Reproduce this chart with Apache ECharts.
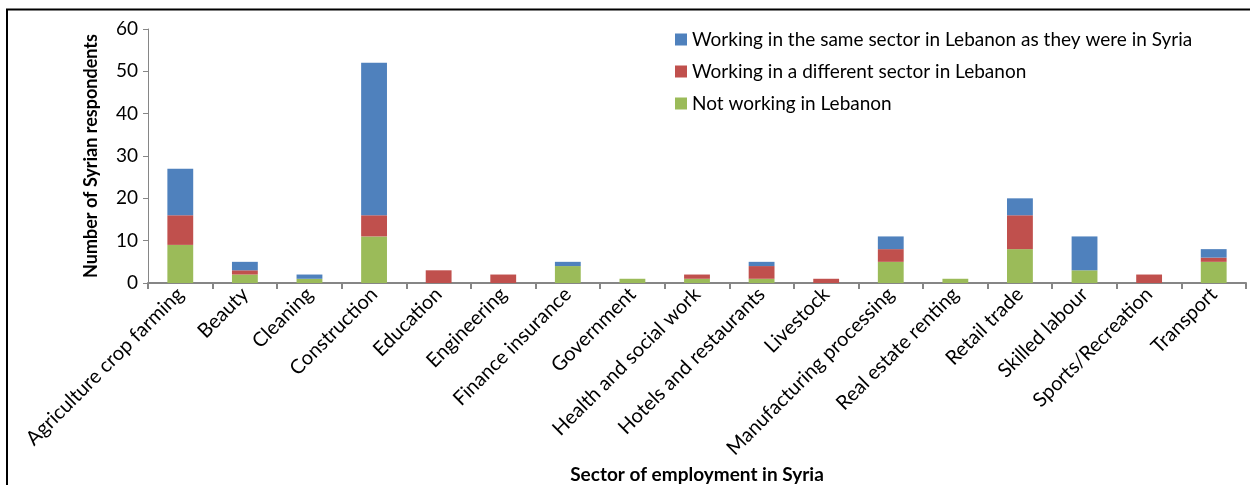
<!DOCTYPE html>
<html>
<head>
<meta charset="utf-8">
<script src="https://cdn.jsdelivr.net/npm/echarts@6/dist/echarts.min.js"></script>
<style>
  html, body { margin: 0; padding: 0; background: #fff; }
  #main { width: 1250px; height: 485px; }
</style>
</head>
<body>
<div id="main"></div>
<script>
var sectors = ['Agriculture crop farming', 'Beauty', 'Cleaning', 'Construction', 'Education',
  'Engineering', 'Finance insurance', 'Government', 'Health and social work',
  'Hotels and restaurants', 'Livestock', 'Manufacturing processing', 'Real estate renting',
  'Retail trade', 'Skilled labour', 'Sports/Recreation', 'Transport'];
var notWorking = [9, 2, 1, 11, 0, 0, 4, 1, 1, 1, 0, 5, 1, 8, 3, 0, 5];
var differentSector = [7, 1, 0, 5, 3, 2, 0, 0, 1, 3, 1, 3, 0, 8, 0, 2, 1];
var sameSector = [11, 2, 1, 36, 0, 0, 1, 0, 0, 1, 0, 3, 0, 4, 8, 0, 2];
var yTicks = [0, 10, 20, 30, 40, 50, 60];

var font = 'Lato, "Open Sans", sans-serif';
var chart = echarts.init(document.getElementById('main'));

// Excel-style stacked columns: green at the bottom, blue on top
function bar(name, data, color) {
  return {
    name: name, type: 'bar', stack: 'total', data: data,
    barWidth: '40%',
    itemStyle: { color: color }
  };
}

chart.setOption({
  animation: false,
  textStyle: { fontFamily: font },
  graphic: [{
    type: 'rect',
    shape: { x: 7, y: 9.5, width: 1300, height: 600 },
    style: { fill: 'none', stroke: '#000', lineWidth: 2 },
    silent: true
  }],
  grid: { left: 148, right: 4, top: 29, bottom: 202, containLabel: false, outerBoundsMode: 'none' },
  legend: {
    orient: 'vertical',
    left: 670, top: 25,
    itemWidth: 12, itemHeight: 12, itemGap: 13,
    icon: 'rect',
    textStyle: { fontSize: 19, color: '#000', fontFamily: font },
    data: ['Working in the same sector in Lebanon as they were in Syria',
      'Working in a different sector in Lebanon', 'Not working in Lebanon']
  },
  xAxis: {
    type: 'category',
    data: sectors,
    name: 'Sector of employment in Syria',
    nameLocation: 'middle',
    nameGap: 180,
    nameTextStyle: { fontSize: 19, fontWeight: 'bold', color: '#000' },
    axisLine: { lineStyle: { color: '#868686', width: 2 } },
    axisTick: { show: true, length: 6, lineStyle: { color: '#868686', width: 2 } },
    axisLabel: { rotate: 45, fontSize: 20, color: '#000', margin: 8, interval: 0 }
  },
  yAxis: {
    type: 'value',
    min: 0, max: 60, interval: 10,
    name: 'Number of Syrian respondents',
    nameLocation: 'middle',
    nameGap: 48,
    nameTextStyle: { fontSize: 18, fontWeight: 'bold', color: '#000' },
    splitLine: { show: false },
    axisLine: { show: true, lineStyle: { color: '#868686', width: 1 } },
    axisTick: { show: true, length: 5, lineStyle: { color: '#868686' } },
    axisLabel: {
      fontSize: 19, color: '#000', margin: 10,
      formatter: function (v) { return yTicks.indexOf(v) >= 0 ? String(v) : ''; }
    }
  },
  series: [
    bar('Not working in Lebanon', notWorking, '#9bbb59'),
    bar('Working in a different sector in Lebanon', differentSector, '#c0504d'),
    bar('Working in the same sector in Lebanon as they were in Syria', sameSector, '#4f81bd')
  ]
});
</script>
</body>
</html>
